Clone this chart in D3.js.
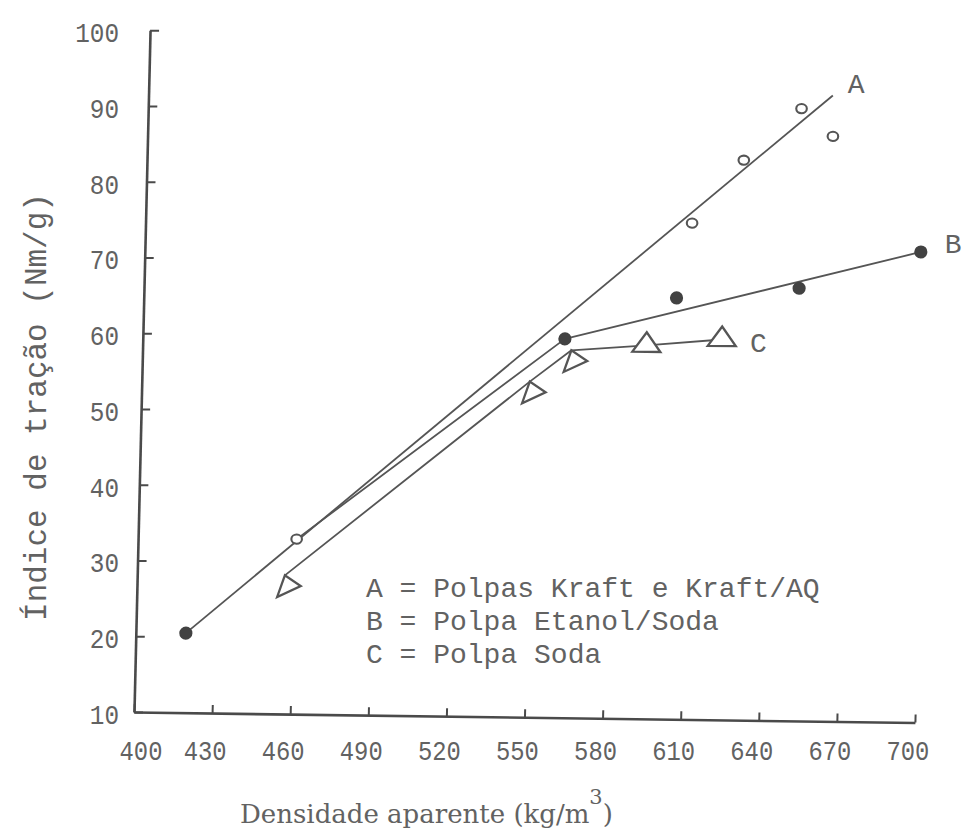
<!DOCTYPE html>
<html>
<head>
<meta charset="utf-8">
<script src="https://cdn.jsdelivr.net/npm/d3@7"></script>
<style>
  html, body { margin: 0; padding: 0; background: #fff; }
  svg { display: block; }
</style>
</head>
<body>
<svg id="chart" width="966" height="835"></svg>
<script>
// Tensile index against apparent density for three pulping processes.

const xTicks = [400, 430, 460, 490, 520, 550, 580, 610, 640, 670, 700];
const yTicks = [10, 20, 30, 40, 50, 60, 70, 80, 90, 100];

// Measured points (kg/m3, Nm/g)
const kraftX  = [460.9, 609.9, 629.2, 650.9, 663.2];
const kraftY  = [33.1, 75.5, 83.9, 90.8, 87.2];
const etanolX = [419.2, 562.1, 604.6, 651.6, 698.0];
const etanolY = [20.5, 60.0, 65.6, 67.1, 72.1];
const sodaX   = [456.7, 549.0, 564.7, 593.5, 622.4];
const sodaY   = [28.3, 54.3, 58.5, 59.3, 60.2];

// Hand-fitted curves
const curveAX = [419.2, 662.8];
const curveAY = [20.5, 92.6];
const curveBX = [460.9, 562.1, 698.0];
const curveBY = [33.1, 60.0, 72.1];
const curveCX = [456.7, 549.0, 564.7, 593.5, 622.4];
const curveCY = [28.3, 54.3, 58.5, 59.3, 60.2];

const curveNames = ["A", "B", "C"];
const legendLines = [
  "A = Polpas Kraft e Kraft/AQ",
  "B = Polpa Etanol/Soda",
  "C = Polpa Soda"
];
const xTitle = "Densidade aparente (kg/m";
const yTitle = "Índice de tração (Nm/g)";

// ---------------------------------------------------------------
const ink = "#4a4a4a";
const textInk = "#626262";
const mono = "'Liberation Mono', 'DejaVu Sans Mono', monospace";
const serif = "'DejaVu Serif', 'Liberation Serif', serif";

const origin = { x: 134, y: 712 };
const x = d3.scaleLinear().domain([400, 700]).range([0, 781]);
const y = d3.scaleLinear().domain([10, 100]).range([0, -682]);

// The ruled axes lean a little: x-axis drops to the right, y-axis leans right.
const ax = 0.77 * Math.PI / 180, ay = 1.35 * Math.PI / 180;
const M = [Math.cos(ax), Math.sin(ax), -Math.sin(ay), Math.cos(ay), origin.x, origin.y];
const toPage = (px, py) => [M[0] * px + M[2] * py + M[4], M[1] * px + M[3] * py + M[5]];

const svg = d3.select("#chart");
svg.append("rect").attr("width", 966).attr("height", 835).attr("fill", "#fff");

const plot = svg.append("g").attr("transform", `matrix(${M.join(",")})`);

// Axes: ticks point inward, labels drawn separately upright
const styleAxis = g => {
  g.select(".domain").attr("stroke", ink).attr("stroke-width", 2.6);
  g.selectAll(".tick line").attr("stroke", ink).attr("stroke-width", 2);
  g.selectAll(".tick text").remove();
};
plot.append("g")
  .call(d3.axisBottom(x).tickValues(xTicks).tickSizeInner(-8).tickSizeOuter(0).tickFormat(""))
  .call(styleAxis);
plot.append("g")
  .call(d3.axisLeft(y).tickValues(yTicks).tickSizeInner(-9).tickSizeOuter(0).tickFormat(""))
  .call(styleAxis);

// Curves
const zip = (xs, ys) => xs.map((v, i) => [v, ys[i]]);
const line = d3.line().x(d => x(d[0])).y(d => y(d[1]));
const curves = [zip(curveAX, curveAY), zip(curveBX, curveBY), zip(curveCX, curveCY)];
plot.selectAll("path.curve").data(curves).join("path")
  .attr("class", "curve")
  .attr("d", line)
  .attr("fill", "none")
  .attr("stroke", "#555")
  .attr("stroke-width", 1.8)
  .attr("stroke-linejoin", "round");

// Markers
plot.selectAll("ellipse.kraft").data(zip(kraftX, kraftY)).join("ellipse")
  .attr("class", "kraft")
  .attr("cx", d => x(d[0])).attr("cy", d => y(d[1]))
  .attr("rx", 5.3).attr("ry", 4.6)
  .attr("fill", "#fff").attr("stroke", "#555").attr("stroke-width", 2.1);

plot.selectAll("circle.etanol").data(zip(etanolX, etanolY)).join("circle")
  .attr("class", "etanol")
  .attr("cx", d => x(d[0])).attr("cy", d => y(d[1]))
  .attr("r", 6.6)
  .attr("fill", "#424242");

// The first soda triangles lie on their side along the steep part of curve C
const triSide = "M0,0 L-7.2,21.7 L16.1,10.5 Z";
const triUp = "M0,-13 L-14,6.5 L14,6.5 Z";
plot.selectAll("path.soda").data(zip(sodaX, sodaY)).join("path")
  .attr("class", "soda")
  .attr("transform", d => `translate(${x(d[0])},${y(d[1])})`)
  .attr("d", (d, i) => i < 3 ? triSide : triUp)
  .attr("fill", "#fff").attr("stroke", "#555").attr("stroke-width", 2.3)
  .attr("stroke-linejoin", "miter");

// ---------------------------------------------------------------
// Text
const txt = svg.append("g").attr("fill", textInk);

txt.selectAll("text.xtick").data(xTicks).join("text")
  .attr("class", "xtick")
  .attr("x", (d, i) => toPage(x(d), 0)[0] + (i === 0 ? 7 : -7))
  .attr("y", 760)
  .attr("text-anchor", "middle")
  .attr("font-family", mono).attr("font-size", 28)
  .attr("textLength", d => String(d).length * 14.3)
  .attr("lengthAdjust", "spacingAndGlyphs")
  .text(d => d);

txt.selectAll("text.ytick").data(yTicks).join("text")
  .attr("class", "ytick")
  .attr("x", 119)
  .attr("y", d => toPage(0, y(d))[1] + 12)
  .attr("text-anchor", "end")
  .attr("font-family", mono).attr("font-size", 28)
  .attr("textLength", d => String(d).length * 14.6)
  .attr("lengthAdjust", "spacingAndGlyphs")
  .text(d => d);

// Axis titles
const xt = txt.append("text")
  .attr("x", 240).attr("y", 823)
  .attr("font-family", serif).attr("font-size", 26);
xt.append("tspan").text(xTitle);
xt.append("tspan").attr("font-size", 21).attr("dy", -19).text("3");
xt.append("tspan").attr("dy", 19).text(")");

txt.append("text")
  .attr("transform", "translate(46,407) rotate(-90)")
  .attr("text-anchor", "middle")
  .attr("font-family", mono).attr("font-size", 31)
  .text(yTitle);

// Curve labels next to the end of each curve
const labelOffsets = [[15, -2], [24, 1], [28, 13]];
curves.forEach((c, i) => {
  const end = c[c.length - 1];
  const p = toPage(x(end[0]), y(end[1]));
  txt.append("text")
    .attr("x", p[0] + labelOffsets[i][0])
    .attr("y", p[1] + labelOffsets[i][1])
    .attr("font-family", mono).attr("font-size", 28)
    .text(curveNames[i]);
});

// Key
txt.selectAll("text.key").data(legendLines).join("text")
  .attr("class", "key")
  .attr("x", 366)
  .attr("y", (d, i) => 597 + i * 33)
  .attr("font-family", mono).attr("font-size", 28)
  .attr("xml:space", "preserve")
  .style("white-space", "pre")
  .text(d => d);
</script>
</body>
</html>
